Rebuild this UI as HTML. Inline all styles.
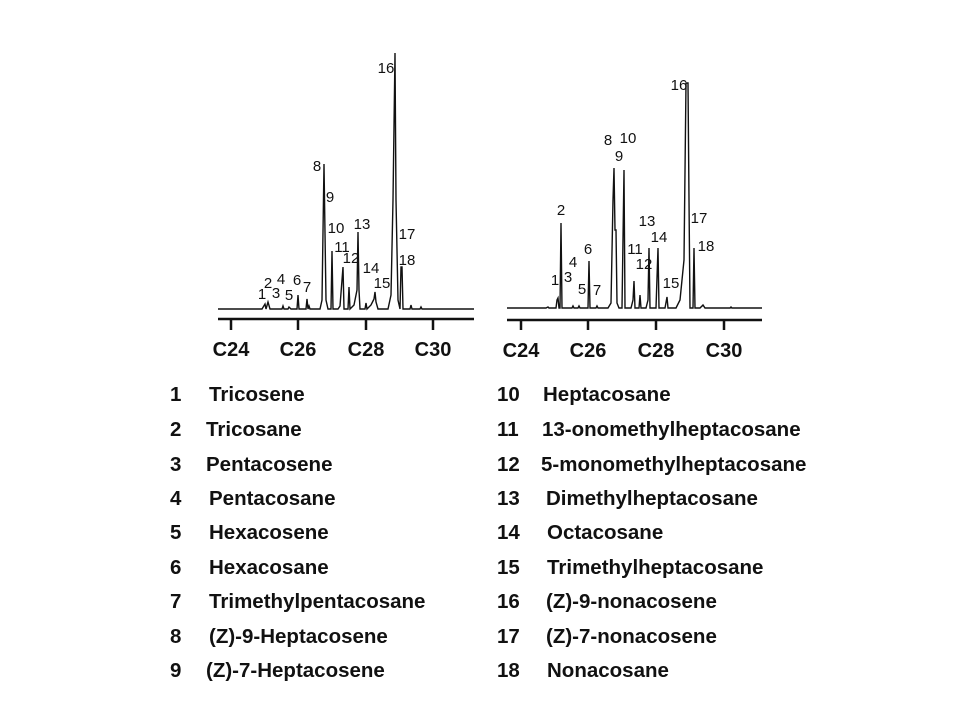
<!DOCTYPE html>
<html><head><meta charset="utf-8"><style>
body{margin:0;background:#fff;width:960px;height:720px;overflow:hidden;position:relative;font-family:"Liberation Sans",Arial,sans-serif}
.t{position:absolute;font-weight:bold;font-size:20.5px;color:#111;line-height:22px}
</style></head><body>
<svg width="960" height="720" style="position:absolute;left:0;top:0" font-family="Liberation Sans,Arial,sans-serif">
<g stroke="#111" fill="none" stroke-width="1.4">
<path d="M218 309 L262 309 L265 304 L266 309 L268 302 L270 309 L282 309 L283 306 L284 309 L288 309 L289 307 L291 309 L297 309 L298 295 L299 309 L306 309 L307 299 L308 309 L309 306 L310 309 L320 309 L322 300 L324 164 L325 233 L326 300 L328 309 L331 309 L332 251 L333 309 L338 309 L340 306 L343 267 L344 309 L348 309 L349 287 L350 309 L354 305 L357 290 L358 232 L359 290 L360 309 L365 309 L366 303 L367 309 L371 305 L374 299 L375 292 L376 302 L378 309 L388 309 L391 295 L393 200 L395 53 L396 200 L398 300 L400 309 L401 267 L402 267 L403 309 L410 309 L411 305 L412 309 L420 309 L421 307 L422 309 L474 309"/>
<path d="M218 319 H474" stroke-width="2.5"/>
<path d="M231 319 V330 M298 319 V330 M366 319 V330 M433 319 V330" stroke-width="2.5"/>
<path d="M507 308 L546 308 L548 307 L549 308 L556 308 L557 300 L558 298 L559 308 L560 308 L561 223 L562 308 L572 308 L573 306 L574 308 L578 308 L579 306 L580 308 L588 308 L589 261 L590 308 L596 308 L597 306 L598 308 L608 308 L611 303 L613 200 L614 168 L615 230 L616 230 L617 303 L619 308 L622 308 L624 170 L625 308 L631 308 L633 300 L634 281 L635 308 L639 308 L640 295 L641 308 L646 308 L648 300 L649 248 L650 308 L656 308 L658 248 L659 308 L665 308 L667 297 L668 308 L676 308 L680 300 L684 260 L686 83 L688 83 L689 200 L690 308 L693 308 L694 248 L695 308 L700 308 L703 305 L705 308 L730 308 L731 307 L732 308 L762 308"/>
<path d="M507 320 H762" stroke-width="2.5"/>
<path d="M521 320 V330 M588 320 V330 M656 320 V330 M724 320 V330" stroke-width="2.5"/>
</g>
<g font-size="20" fill="#111" text-anchor="middle" font-weight="bold">
<text x="231" y="356">C24</text><text x="298" y="356">C26</text><text x="366" y="356">C28</text><text x="433" y="356">C30</text>
<text x="521" y="357">C24</text><text x="588" y="357">C26</text><text x="656" y="357">C28</text><text x="724" y="357">C30</text>
</g>
<g font-size="15" fill="#111" text-anchor="middle">
<text x="386" y="73">16</text>
<text x="317" y="171">8</text><text x="330" y="202">9</text><text x="336" y="233">10</text>
<text x="342" y="252">11</text><text x="362" y="229">13</text><text x="351" y="263">12</text>
<text x="371" y="273">14</text><text x="382" y="288">15</text>
<text x="407" y="239">17</text><text x="407" y="265">18</text>
<text x="262" y="299">1</text><text x="268" y="288">2</text><text x="276" y="298">3</text>
<text x="281" y="284">4</text><text x="289" y="300">5</text><text x="297" y="285">6</text><text x="307" y="292">7</text>
<text x="679" y="90">16</text>
<text x="608" y="145">8</text><text x="619" y="161">9</text><text x="628" y="143">10</text>
<text x="561" y="215">2</text><text x="647" y="226">13</text><text x="659" y="242">14</text>
<text x="635" y="254">11</text><text x="644" y="269">12</text><text x="671" y="288">15</text>
<text x="699" y="223">17</text><text x="706" y="251">18</text>
<text x="555" y="285">1</text><text x="568" y="282">3</text><text x="573" y="267">4</text>
<text x="588" y="254">6</text><text x="582" y="294">5</text><text x="597" y="295">7</text>
</g>
</svg>
<div class="t" style="left:170px;top:384px">1</div><div class="t" style="left:209px;top:384px">Tricosene</div>
<div class="t" style="left:170px;top:419px">2</div><div class="t" style="left:206px;top:419px">Tricosane</div>
<div class="t" style="left:170px;top:454px">3</div><div class="t" style="left:206px;top:454px">Pentacosene</div>
<div class="t" style="left:170px;top:488px">4</div><div class="t" style="left:209px;top:488px">Pentacosane</div>
<div class="t" style="left:170px;top:522px">5</div><div class="t" style="left:209px;top:522px">Hexacosene</div>
<div class="t" style="left:170px;top:557px">6</div><div class="t" style="left:209px;top:557px">Hexacosane</div>
<div class="t" style="left:170px;top:591px">7</div><div class="t" style="left:209px;top:591px">Trimethylpentacosane</div>
<div class="t" style="left:170px;top:626px">8</div><div class="t" style="left:209px;top:626px">(Z)-9-Heptacosene</div>
<div class="t" style="left:170px;top:660px">9</div><div class="t" style="left:206px;top:660px">(Z)-7-Heptacosene</div>
<div class="t" style="left:497px;top:384px">10</div><div class="t" style="left:543px;top:384px">Heptacosane</div>
<div class="t" style="left:497px;top:419px">11</div><div class="t" style="left:542px;top:419px">13-onomethylheptacosane</div>
<div class="t" style="left:497px;top:454px">12</div><div class="t" style="left:541px;top:454px">5-monomethylheptacosane</div>
<div class="t" style="left:497px;top:488px">13</div><div class="t" style="left:546px;top:488px">Dimethylheptacosane</div>
<div class="t" style="left:497px;top:522px">14</div><div class="t" style="left:547px;top:522px">Octacosane</div>
<div class="t" style="left:497px;top:557px">15</div><div class="t" style="left:547px;top:557px">Trimethylheptacosane</div>
<div class="t" style="left:497px;top:591px">16</div><div class="t" style="left:546px;top:591px">(Z)-9-nonacosene</div>
<div class="t" style="left:497px;top:626px">17</div><div class="t" style="left:546px;top:626px">(Z)-7-nonacosene</div>
<div class="t" style="left:497px;top:660px">18</div><div class="t" style="left:547px;top:660px">Nonacosane</div>
</body></html>
